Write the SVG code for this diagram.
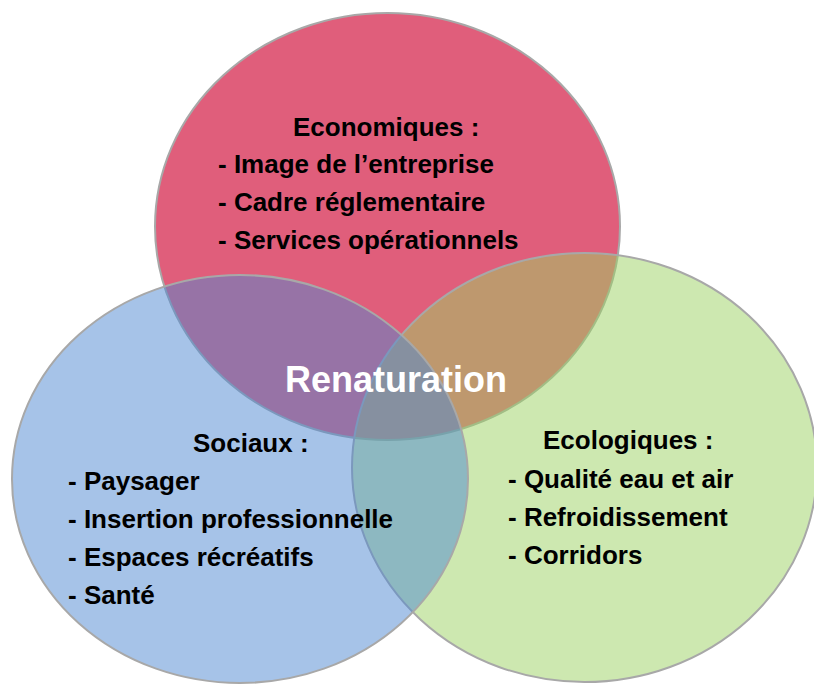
<svg xmlns="http://www.w3.org/2000/svg" width="814" height="684" viewBox="0 0 814 684">
<style>
.c{stroke:#A8A8A8;stroke-width:2}
.t{font-family:"Liberation Sans",Arial,sans-serif;font-weight:bold;font-size:26px;fill:#000}
.ctr{font-family:"Liberation Sans",Arial,sans-serif;font-weight:bold;font-size:36px;fill:#fff}
</style>
<rect width="814" height="684" fill="#fff"/>
<g id="eco">
<ellipse class="c" cx="387.5" cy="226.5" rx="232.5" ry="213.5" fill="#E05E7B"/>
</g>
<g id="ecolo">
<ellipse class="c" cx="584.5" cy="467.5" rx="232.5" ry="214.5" fill="#9BD161" fill-opacity="0.5"/>
</g>
<g id="soc">
<ellipse class="c" cx="240" cy="479" rx="228" ry="204" fill="#4D87D1" fill-opacity="0.5"/>
</g>
<g id="connectors"></g>
<g id="labels-eco">
<text class="t" x="293" y="136">Economiques :</text>
<text class="t" x="218" y="173">- Image de l’entreprise</text>
<text class="t" x="218" y="211">- Cadre réglementaire</text>
<text class="t" x="218" y="249">- Services opérationnels</text>
</g>
<g id="labels-soc">
<text class="t" x="193" y="452">Sociaux :</text>
<text class="t" x="68" y="490">- Paysager</text>
<text class="t" x="68" y="528">- Insertion professionnelle</text>
<text class="t" x="68" y="566">- Espaces récréatifs</text>
<text class="t" x="68" y="604">- Santé</text>
</g>
<g id="labels-ecolo">
<text class="t" x="543" y="449">Ecologiques :</text>
<text class="t" x="508" y="488">- Qualité eau et air</text>
<text class="t" x="508" y="526">- Refroidissement</text>
<text class="t" x="508" y="564">- Corridors</text>
</g>
<g id="center">
<text class="ctr" x="285" y="392">Renaturation</text>
</g>
</svg>
